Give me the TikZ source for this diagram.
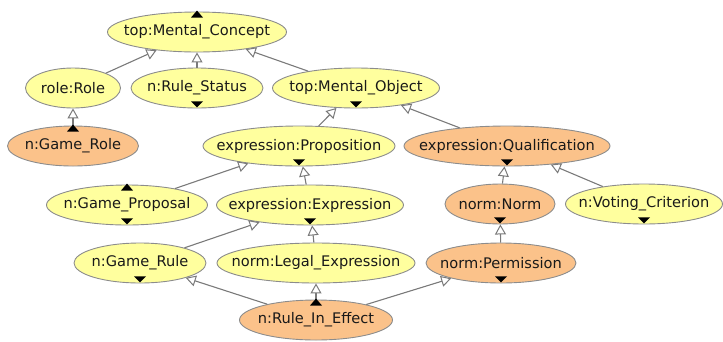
\documentclass[tikz,border=0pt]{standalone}
\usepackage{fontspec}
\setmainfont{DejaVu Sans}
\usetikzlibrary{shapes.geometric,arrows.meta}
\definecolor{conceptyellow}{HTML}{FFFF9E}
\definecolor{conceptorange}{HTML}{FBC28A}
\definecolor{rim}{HTML}{8C8C8C}
\definecolor{wire}{HTML}{7A7A7A}
% zero-width label so the ellipse takes its size from minimum width/height only
\newcommand\cname[1]{\makebox[0pt][c]{#1}}
\begin{document}
\begin{tikzpicture}[x=1pt,y=-1pt,
  concept/.style={ellipse, draw=rim, line width=0.9pt, inner sep=0pt,
    minimum height=40pt, font=\fontsize{14.6}{16}\selectfont, text=black!90},
  yel/.style={concept, fill=conceptyellow},
  org/.style={concept, fill=conceptorange},
  isa/.style={draw=wire, line width=1.1pt,
    -{Triangle[open, fill=white, length=10pt, width=11pt, line width=1pt]}},
  downtick/.pic={\fill (-6,-7) -- (6,-7) -- (0,-1) -- cycle;},
  uptick/.pic={\fill (-6,6) -- (6,6) -- (0,-1) -- cycle;},
]
\useasboundingbox (0,0) rectangle (723,341);

% concepts
\node[yel, minimum width=179pt] (mc)    at (197,32)  {\cname{top:Mental\_Concept}};
\node[yel, minimum width=95pt]  (role)  at (73,88)   {\cname{role:Role}};
\node[yel, minimum width=132pt] (rs)    at (197,88)  {\cname{n:Rule\_Status}};
\node[yel, minimum width=167pt] (mo)    at (356,88)  {\cname{top:Mental\_Object}};
\node[org, minimum width=131pt] (gr)    at (73,146)  {\cname{n:Game\_Role}};
\node[yel, minimum width=192pt] (prop)  at (299,146) {\cname{expression:Proposition}};
\node[org, minimum width=206pt] (qual)  at (507,146) {\cname{expression:Qualification}};
\node[yel, minimum width=161pt] (gp)    at (127,205) {\cname{n:Game\_Proposal}};
\node[yel, minimum width=187pt] (expr)  at (310,205) {\cname{expression:Expression}};
\node[org, minimum width=110pt] (norm)  at (500,204) {\cname{norm:Norm}};
\node[yel, minimum width=157pt] (vc)    at (644,204) {\cname{n:Voting\_Criterion}};
\node[yel, minimum width=132pt] (grule) at (140,263) {\cname{n:Game\_Rule}};
\node[yel, minimum width=198pt] (legal) at (316,263) {\cname{norm:Legal\_Expression}};
\node[org, minimum width=150pt] (perm)  at (501,263) {\cname{norm:Permission}};
\node[org, minimum width=153pt] (rie)   at (316,320) {\cname{n:Rule\_In\_Effect}};

% subtype links, child to parent
\draw[isa] (role)  -- (mc);
\draw[isa] (rs)    -- (mc);
\draw[isa] (mo)    -- (mc);
\draw[isa] (gr)    -- (role);
\draw[isa] (prop)  -- (mo);
\draw[isa] (qual)  -- (mo);
\draw[isa] (gp)    -- (prop);
\draw[isa] (expr)  -- (prop);
\draw[isa] (norm)  -- (qual);
\draw[isa] (vc)    -- (qual);
\draw[isa] (grule) -- (expr);
\draw[isa] (legal) -- (expr);
\draw[isa] (perm)  -- (norm);
\draw[isa] (rie)   -- (grule);
\draw[isa] (rie)   -- (legal);
\draw[isa] (rie)   -- (perm);

% expand / collapse markers
\foreach \n in {mc,gr,gp,rie} \pic at (\n.north) {uptick};
\foreach \n in {rs,mo,prop,qual,gp,expr,norm,vc,grule,perm} \pic at (\n.south) {downtick};
\end{tikzpicture}
\end{document}
